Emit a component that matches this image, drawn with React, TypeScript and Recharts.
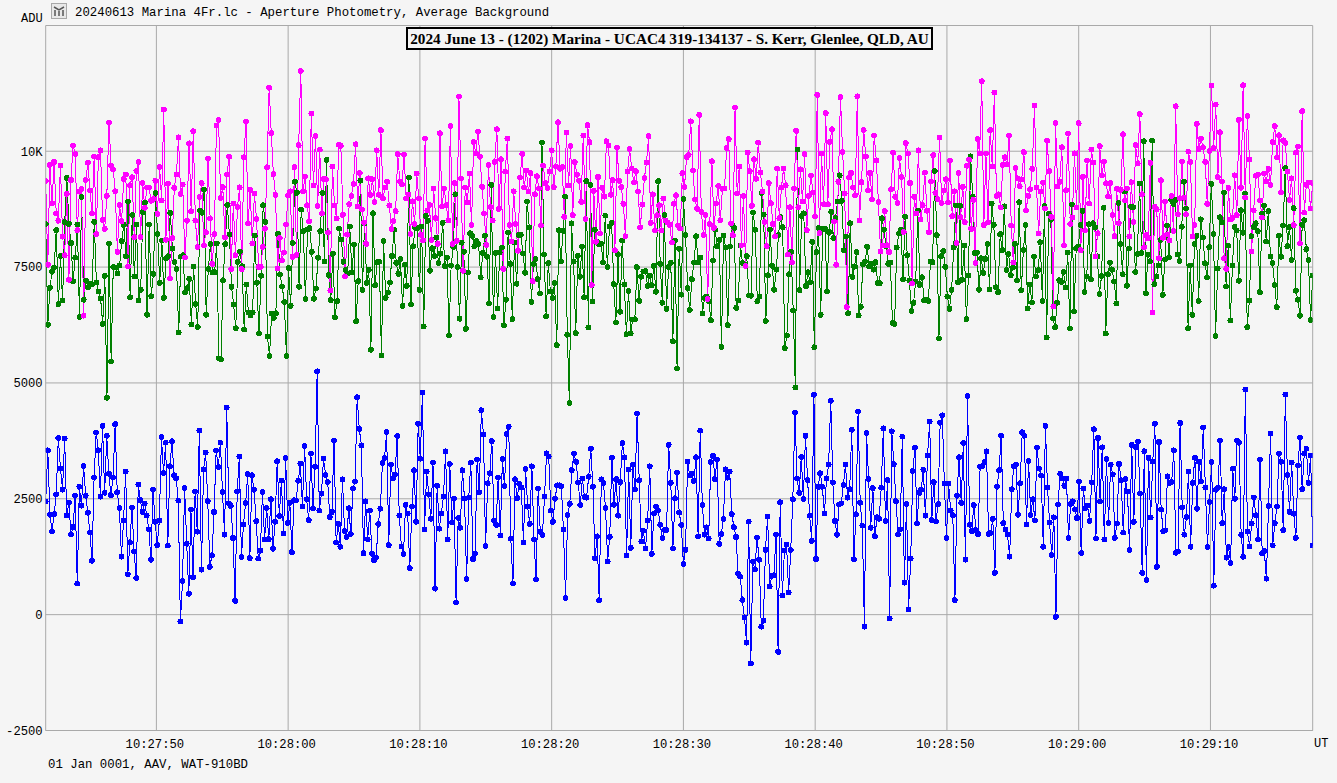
import React from "react";
import { LineChart, Line, XAxis, YAxis, CartesianGrid, ReferenceLine } from "recharts";

const blueValues = [
2445,3545,2157,1800,2170,2595,3810,3156,2696,3800,2140,2420,1730,1890,2570,670,2760,2350,3210,2565,2200,1775,1160,2960,3930,3545,2545,4075,2630,3860,3040,2580,2960,4110,2640,2300,1250,2030,3085,870,1560,2310,1360,790,2810,2470,2220,2400,2140,1840,1185,2695,2005,1500,2030,3830,3055,3710,1490,3200,3740,3010,2940,2460,-150,725,2730,1530,450,2265,810,2660,1790,3970,970,3130,3500,2450,1030,1280,2215,3540,3185,3710,2645,1725,4470,2400,2345,1655,295,2660,3410,1245,1950,2410,3035,1220,3010,2695,2020,1210,1380,2645,1620,2300,1630,2490,1420,2005,3310,2130,2890,1755,3380,1980,2410,1350,2470,2465,2890,3260,2335,3640,2490,2040,3480,2295,3190,5250,2245,2610,3365,3010,2860,2105,2215,3760,1555,1960,
1465,2920,1805,1680,2295,1740,2725,2870,4690,4010,3650,1325,2445,1625,2245,1315,1180,1230,1955,2285,3270,3380,3940,1500,3240,2935,3020,3855,2140,1475,1310,2370,2185,1005,2330,3115,2005,4120,3365,4795,1835,3090,2595,2070,3280,560,2780,1855,2185,2545,3525,1625,3250,1985,2500,260,2085,1875,3115,2510,770,2525,3280,1200,1315,3345,2640,4410,3890,1480,2835,3050,3745,2035,1935,2960,1710,3360,2780,3900,4055,1640,670,2920,2515,2825,2740,1560,3140,2330,1960,3200,1625,760,2720,1785,1720,2545,3480,3410,2245,2000,2500,2790,2790,2770,1840,360,2150,2390,3120,3475,3295,2850,2365,2940,2540,2525,2975,3580,2760,1220,1690,310,2920,2840,2300,1145,1680,3385,2370,2925,2135,2860,3700,3395,1280,3130,1440,3235,2705,4340,2900,1580,1810,1425,2030,3200,1310,2185,2335,2250,1940,1655,1830,
1825,3665,2845,1425,2510,3065,2200,1935,1095,1400,3300,3000,3040,2885,3395,1690,3970,2365,1725,1885,1645,3295,3430,2925,3350,1525,1740,2065,3135,2955,3085,2170,1890,1675,890,820,315,-65,-605,2005,-1055,1145,980,1660,1185,-260,-130,1400,2120,605,835,850,1730,-805,2425,415,1380,1515,480,1395,2490,4365,2940,2625,3400,2495,3860,2900,2135,1590,4745,1200,2755,3050,2760,2185,2935,3240,4615,2855,2020,1725,2375,2400,2795,3240,2525,2705,3990,1195,2165,4380,2415,1920,-260,3920,2925,1875,2730,1695,2100,2070,2740,4020,2020,2900,-80,3955,3250,2450,1730,1840,3840,690,2385,115,1210,3100,3600,1970,2625,2695,3125,2135,3435,4170,2040,2860,2015,2385,4140,4300,2825,1655,2825,2250,2145,315,2565,3395,2410,3705,1185,4715,1940,1800,2365,1825,1740,3190,3205,3295,3525,1740,
1760,2065,900,2760,3120,3860,1975,1835,1725,1250,2705,3200,3240,2155,2835,3935,3860,1950,3315,2150,2490,2035,3600,3155,3000,1465,4075,2740,1990,1285,2100,-50,2375,3035,2935,2780,2935,1655,2385,2445,2270,2085,2870,1330,2720,2295,2350,2025,2855,4000,1640,3810,2440,3610,1620,3360,1975,3235,3025,1655,1965,3250,2900,1770,2925,2655,1395,3665,2000,3610,3730,2610,900,3525,750,3385,2100,3300,4120,1030,3725,2265,1800,1820,2985,2840,2860,3545,1335,1365,4135,2315,1725,2105,3085,1465,2845,3385,2285,3295,2870,4040,2745,1460,2430,3295,625,2695,2740,3755,1975,2705,1230,1460,1115,3150,2500,3760,3710,1720,1250,4860,1790,1475,1965,2530,2145,1625,3345,1325,1375,775,2345,3910,1495,1975,2330,3480,3300,1825,4750,3015,2220,3280,2180,1655,3220,3820,2710,3475,3580,2845,3430,1490,
];

const greenValues = [
8430,6255,7050,7400,7490,8295,6700,7735,6780,8470,9425,8430,8020,7195,7705,8420,6425,9010,6795,7210,7065,7145,7125,8475,7165,6975,6820,6275,7310,4680,8010,5465,7500,7490,7360,7535,8060,8410,7735,8915,6850,8625,7295,8420,6780,7010,8685,8885,6470,8420,6870,7355,9100,8210,7160,8075,6835,7685,7735,8670,7905,7605,7455,6090,7725,7755,6960,7045,7245,6260,7510,6700,6205,8720,8670,9175,6470,7460,7995,7385,7390,8010,5530,5505,7215,7995,8840,8200,7075,6690,6180,7610,7830,7520,6150,7125,6515,6455,6520,8180,7160,6065,7310,8835,8475,6000,5580,6500,6405,6505,8215,7340,7080,6745,5580,7475,6665,8020,9340,9100,7075,8740,8275,6810,8310,8340,7830,6815,7040,7700,8275,9100,7620,9815,7325,6785,7785,6420,6765,8330,
8095,7615,7440,7360,8375,7390,7980,6335,7195,9365,7010,8445,7160,7440,5715,8660,7110,7605,7615,5590,8065,6835,6950,7165,7740,8305,7590,7355,7670,6665,7550,7095,9430,6695,7950,8355,8340,7010,8375,6220,8605,8495,7420,7905,7740,8135,7585,7790,8455,7520,7700,6025,7535,7935,9070,7500,6385,8025,7830,6165,7385,8230,8175,7950,8065,8000,7280,7805,8175,7720,6715,9275,6420,7805,6605,7820,7920,6245,6795,8245,7570,6375,8030,7140,8195,8195,7790,7375,8915,8355,6750,7570,7675,7240,6930,10185,7770,6440,7585,6975,6830,7155,5815,8295,7620,8280,9020,6040,4565,8445,7620,6075,7740,7290,7945,6850,9355,6195,9275,6755,8305,8050,8000,8000,7600,8610,7500,8375,8455,7130,6305,7780,6535,8070,7125,6050,6980,6065,6370,6375,7500,6770,7290,7405,7410,7095,7320,7110,7525,6965,9355,7570,6730,8625,
6600,7500,7590,5900,8065,5310,7895,6905,8970,8190,7045,6575,7240,7600,8165,7605,7705,6500,6835,6865,6765,6355,7640,8305,7950,8085,5780,8180,7920,6245,7945,8425,8345,6620,6780,7965,7590,7560,7735,6885,6880,8675,8305,6765,6865,9100,8635,6335,7325,8310,7525,7010,7445,8195,8575,8360,5750,6025,7345,7830,6560,4900,10035,7000,8605,8660,7090,7390,7165,8045,5770,7820,8340,6470,8320,8325,6980,8255,8690,8125,8560,8915,9480,8930,7865,8160,6505,8445,7290,7510,7820,6455,6640,7560,7620,7935,7510,7570,7445,7605,7160,7155,8555,8305,7945,7570,7600,6290,6275,7920,8225,8305,7240,8585,7755,7210,6555,6730,7190,8720,7115,7280,6785,6785,6765,7620,7605,9575,8190,5960,7735,7845,7505,6860,6600,7010,7920,8830,7175,8820,7225,7965,6375,7320,9890,9020,7800,7815,7010,7690,7375,7670,8000,
7015,8870,8410,7065,6960,8210,7865,8810,7435,7785,7325,7490,8000,7210,8900,7000,7865,8405,6605,7125,6735,7730,7295,7435,8035,6770,8815,5980,8650,8520,6390,6205,6730,7215,7180,7390,7060,7815,6175,8850,6545,7905,7945,8405,8715,6965,7295,8425,7240,8445,8360,7730,6920,7305,8780,6065,7345,7600,7440,7190,6715,8885,7995,7345,9130,7095,7900,8800,8790,7395,7785,9300,7805,10215,6935,7770,7620,10230,7130,7300,7535,8085,6900,7665,8395,7705,8950,8865,8950,7770,7630,8370,9340,8765,6180,7535,6470,8000,8175,6765,8530,8135,7585,7275,7930,9295,8210,6010,7470,8575,8470,9110,7080,7965,6345,7535,8370,8290,7205,8725,8240,9085,6205,6780,8165,8360,8445,8275,6960,8650,8830,8050,8705,7730,7585,7115,6635,8175,7720,8395,9635,7950,8360,7655,8770,6990,6795,6450,8410,8510,7885,7650,6355,7320,
];

const magentaValues = [
9355,7550,9705,8880,9770,8655,8500,9690,8160,7755,9080,7225,9380,10120,9940,8295,9135,9185,6450,9380,9750,9150,8660,9885,8210,9870,10020,8520,8325,9035,10620,9690,9605,9135,7830,8840,8490,9400,9500,7510,9265,9440,8145,9575,9770,8145,9315,8780,9220,9220,8930,8965,9360,8650,9660,8935,10900,8090,9295,7250,8125,9210,9495,10300,9080,9280,7705,8500,10170,8705,10430,8500,7935,9015,9310,7965,8255,9840,8550,7570,8210,10557,10673,8990,9225,8145,9500,9880,7455,8870,7755,8800,9220,7455,9870,10635,8445,9165,8010,9085,8540,7505,7505,7935,8325,9655,11370,10390,9505,9060,7470,8125,7640,7815,8420,9050,9135,7720,9655,7765,10130,11730,9130,9455,8835,8485,10815,9260,10325,8820,10035,8655,9400,9395,8245,6995,9670,8830,8550,10140,
10115,8625,7295,8200,8855,9035,9295,10150,8805,9530,8740,8455,8000,9415,9060,9395,8905,10020,9060,10455,8985,9215,9345,8830,8320,8495,8705,9935,9345,9280,9930,8980,9065,8215,8920,8430,9520,8980,8195,8080,10275,8720,8840,8080,9195,8555,8000,10390,8815,9195,8840,8505,10540,7995,9310,8065,11180,9410,7420,9215,8895,9520,8405,10200,9950,10425,9880,9230,8655,7980,9705,8800,8505,9770,10475,8755,9825,7460,9560,10275,8410,8050,9135,8430,7850,9430,9940,9215,9585,9130,9525,7195,9070,9460,9195,8395,9690,9310,9210,9560,10020,9225,9670,10625,9620,9660,8585,10400,9265,10110,8620,9765,9490,9360,8905,10340,8540,10560,10195,7115,9145,8045,9445,8225,9210,9020,10215,10120,9060,9375,7865,10080,9360,9225,8865,8165,9560,10045,9625,9325,9570,9130,8355,8850,9425,9755,10325,8455,9070,8290,8620,8835,8290,8980,
8505,8460,8410,8030,8865,9050,8390,8330,9525,9225,9870,9920,10645,9585,8955,8755,10785,8690,8190,8620,6810,8425,9785,8345,8870,9250,8510,9190,9195,10065,10260,8440,8190,10940,9085,9670,7970,9030,7520,9970,9570,8820,9825,9405,10185,9540,9135,8470,7950,9310,8880,8430,8165,9625,8555,9215,9625,9265,7770,8790,7605,9195,10440,8790,9610,8920,9935,8295,9035,9470,9110,8590,11215,8230,9950,8855,10820,8855,10200,10475,8485,7550,9340,11165,9980,9085,6635,9430,9530,9215,9045,11185,8510,9330,10455,9885,9150,9530,8955,10340,9800,8905,7840,7970,8705,7970,7825,9180,9965,9015,8880,9850,9440,8255,10175,9950,9315,7145,9015,8655,10020,8525,8835,9540,8715,8255,9345,9915,9100,8970,10295,8880,9150,9395,8900,9800,8600,9135,8020,9530,8575,9230,8470,9685,9815,8325,8950,7585,10265,9955,11510,8405,9950,8470,
10455,9670,11265,9030,9070,8790,9705,9870,9710,10340,8395,7600,9640,9415,9245,9390,9980,8720,9035,9180,9620,10985,9215,8225,9130,9325,8765,10225,9570,8585,6650,10605,9240,9340,10085,7965,9160,10380,8430,8570,9955,8790,10605,7865,9445,8290,9800,8870,10035,9755,7730,8230,10110,9480,9775,9310,9020,9310,8625,8165,9190,8445,9165,10365,8935,9195,8160,9330,8475,10130,9740,10800,9070,7930,8190,8125,9750,6520,8800,8750,7690,9375,8130,8915,8200,8075,9030,8275,10970,8640,8985,9775,8995,8635,9990,9765,8160,8410,10590,10045,10265,10085,9770,8865,10005,11415,10065,11005,9440,10410,9345,7690,7460,9210,8525,8555,9480,8620,10675,9210,11425,9000,10760,9820,7835,8725,9470,9500,8935,8570,9520,9345,9620,9275,10195,10540,9865,10345,9110,10235,10180,9560,8945,9415,8405,9970,10100,8015,10865,8675,9275,9325,8765,9310,
];

const yTicks = [-2500, 0, 2500, 5000, 7500, 10000];
const xTicks = [37670, 37680, 37690, 37700, 37710, 37720, 37730, 37740, 37750];
const xStart = 37661.6;
const xEnd = 37757.76;
const yTop = 12713;
const gridColor = "#a9a9a9";
const mono = '"Liberation Mono", monospace';

const toSeries = (vals: number[]) =>
  vals.map((v, i) => ({ t: xStart + (i * (xEnd - xStart)) / (vals.length - 1), v }));

const fmtTime = (s: number) => {
  const h = Math.floor(s / 3600);
  const m = Math.floor((s % 3600) / 60);
  const ss = Math.round(s % 60);
  return [h, m, ss].map((n) => String(n).padStart(2, "0")).join(":");
};
const fmtY = (v: number) => (v === 10000 ? "10K" : String(v));

const label = (left: number, top: number, text: string, fontSize = 12.35): React.ReactNode => (
  <div style={{ position: "absolute", left, top, fontFamily: mono, fontSize, lineHeight: "14px", color: "#000", whiteSpace: "pre" }}>{text}</div>
);

const xTick = { fill: "#000", fontFamily: mono, fontSize: 12.2, dx: -1.5 };
const yTick = { fill: "#000", fontFamily: mono, fontSize: 12.2 };

export default function App() {
  return (
    <div style={{ position: "absolute", left: 0, top: 0, width: 1337, height: 783, background: "#f5f5f5", overflow: "hidden" }}>
      <LineChart width={1337} height={783} margin={{ top: 25.5, right: 24.3, bottom: 0, left: 0 }}>
        <CartesianGrid stroke={gridColor} strokeWidth={1} horizontalValues={yTicks} verticalValues={xTicks} />
        <XAxis dataKey="t" type="number" domain={[xStart, xEnd]} ticks={xTicks} tickFormatter={fmtTime} allowDataOverflow
          height={52.5} stroke={gridColor} tickLine={false} tick={xTick} tickMargin={3} interval={0} />
        <YAxis type="number" domain={[-2500, yTop]} ticks={yTicks} tickFormatter={fmtY} allowDataOverflow
          width={45.7} stroke={gridColor} tickLine={false} tick={yTick} tickMargin={-3} interval={0} />
        <ReferenceLine y={yTop} stroke={gridColor} />
        <ReferenceLine x={xEnd} stroke={gridColor} />
        <Line data={toSeries(blueValues)} dataKey="v" stroke="#0000ff" strokeWidth={1} isAnimationActive={false}
          dot={{ r: 2.9, fill: "#0000ff", stroke: "none" }} shapeRendering="crispEdges" />
        <Line data={toSeries(greenValues)} dataKey="v" stroke="#008000" strokeWidth={1} isAnimationActive={false}
          dot={{ r: 2.9, fill: "#008000", stroke: "none" }} shapeRendering="crispEdges" />
        <Line data={toSeries(magentaValues)} dataKey="v" stroke="#ff00ff" strokeWidth={1} isAnimationActive={false}
          dot={{ r: 2.9, fill: "#ff00ff", stroke: "none" }} shapeRendering="crispEdges" />
      </LineChart>
      {label(21, 12, "ADU", 12)}
      <svg style={{ position: "absolute", left: 51, top: 3 }} width={16} height={16}>
        <rect x={0.5} y={0.5} width={15} height={15} fill="#e8e8e8" stroke="#a8a8a8" />
        <path d="M3 4 L8 7 L13 4 M4 7 V13 M8 8 V13 M12 7 V13" stroke="#555" strokeWidth={1.5} fill="none" />
      </svg>
      {label(75, 6, "20240613 Marina 4Fr.lc - Aperture Photometry, Average Background")}
      <div style={{ position: "absolute", left: 406, top: 27, width: 523, height: 19, border: "2px solid #000", background: "#f5f5f5",
        fontFamily: '"Liberation Serif", serif', fontWeight: 700, fontSize: 15.25, lineHeight: "19px", textAlign: "center", color: "#000", whiteSpace: "nowrap" }}>
        2024 June 13 - (1202) Marina - UCAC4 319-134137 - S. Kerr, Glenlee, QLD, AU
      </div>
      {label(1314, 737, "UT", 12)}
      {label(48, 758, "01 Jan 0001, AAV, WAT-910BD")}
    </div>
  );
}
